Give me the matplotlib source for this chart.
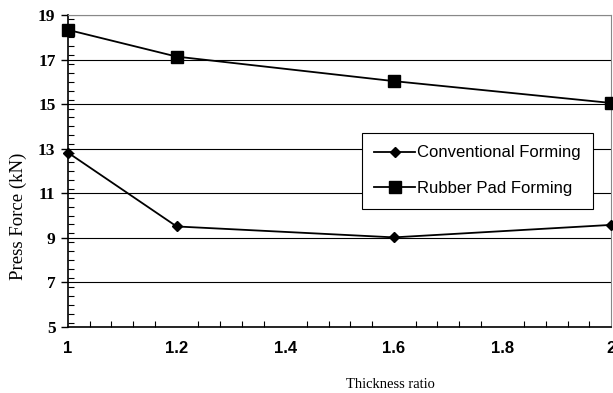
import matplotlib.pyplot as plt
from matplotlib.ticker import MultipleLocator, FuncFormatter

thickness = [1.0, 1.2, 1.6, 2.0]
conventional = [12.82, 9.51, 9.02, 9.58]
rubber_pad = [18.33, 17.13, 16.03, 15.05]
y_ticks = [5, 7, 9, 11, 13, 15, 17, 19]
x_ticks = [1.0, 1.2, 1.4, 1.6, 1.8, 2.0]

fig = plt.figure(figsize=(6.13, 3.93), dpi=100)
ax = fig.add_axes([0.111, 0.168, 0.886, 0.794])

ax.plot(thickness, conventional, color='black', lw=1.3, marker='D', ms=5,
        label='Conventional Forming', clip_on=False, zorder=3)
ax.plot(thickness, rubber_pad, color='black', lw=1.3, marker='s', ms=8,
        label='Rubber Pad Forming', clip_on=False, zorder=3)

ax.set_xlim(1, 2)
ax.set_ylim(5, 19)
ax.set_yticks(y_ticks)
ax.set_xticks(x_ticks)
ax.xaxis.set_major_formatter(FuncFormatter(lambda v, p: f"{v:g}"))
ax.xaxis.set_minor_locator(MultipleLocator(0.04))
ax.yaxis.set_minor_locator(MultipleLocator(0.4))

ax.grid(axis='y', which='major', color='black', lw=0.8)
ax.set_axisbelow(True)

for side in ['top', 'right']:
    ax.spines[side].set_color('#888888')
for side in ['left', 'bottom']:
    ax.spines[side].set_color('black')
    ax.spines[side].set_linewidth(1.2)

ax.tick_params(axis='y', which='major', direction='out', length=5, width=1,
               labelsize=12.5, pad=4)
ax.tick_params(axis='y', which='minor', direction='in', length=4, width=0.8)
ax.tick_params(axis='x', which='major', direction='out', length=0,
               labelsize=12, pad=10)
ax.tick_params(axis='x', which='minor', direction='in', length=4, width=0.8)
for lbl in ax.get_xticklabels() + ax.get_yticklabels():
    lbl.set_fontweight('bold')
for lbl in ax.get_xticklabels():
    lbl.set_family('Liberation Sans')
for lbl in ax.get_yticklabels():
    lbl.set_family('Liberation Serif')

ax.set_xlabel('Thickness ratio', family='Liberation Serif', fontsize=10.5)
ax.set_ylabel('Press Force (kN)', family='Liberation Serif', fontsize=13.5)
ax.xaxis.set_label_coords(0.593, -0.165)
ax.yaxis.set_label_coords(-0.075, 0.356)

leg = ax.legend(loc='upper left', bbox_to_anchor=(0.541, 0.622),
                prop={'family': 'Liberation Sans', 'size': 12},
                frameon=True, fancybox=False, borderpad=0.75, labelspacing=1.25,
                handlelength=2.45, handletextpad=0.1, borderaxespad=0)
leg.get_frame().set_edgecolor('black')
leg.get_frame().set_linewidth(0.8)
leg.get_frame().set_alpha(1)

fig.savefig('out.png', dpi=100)
